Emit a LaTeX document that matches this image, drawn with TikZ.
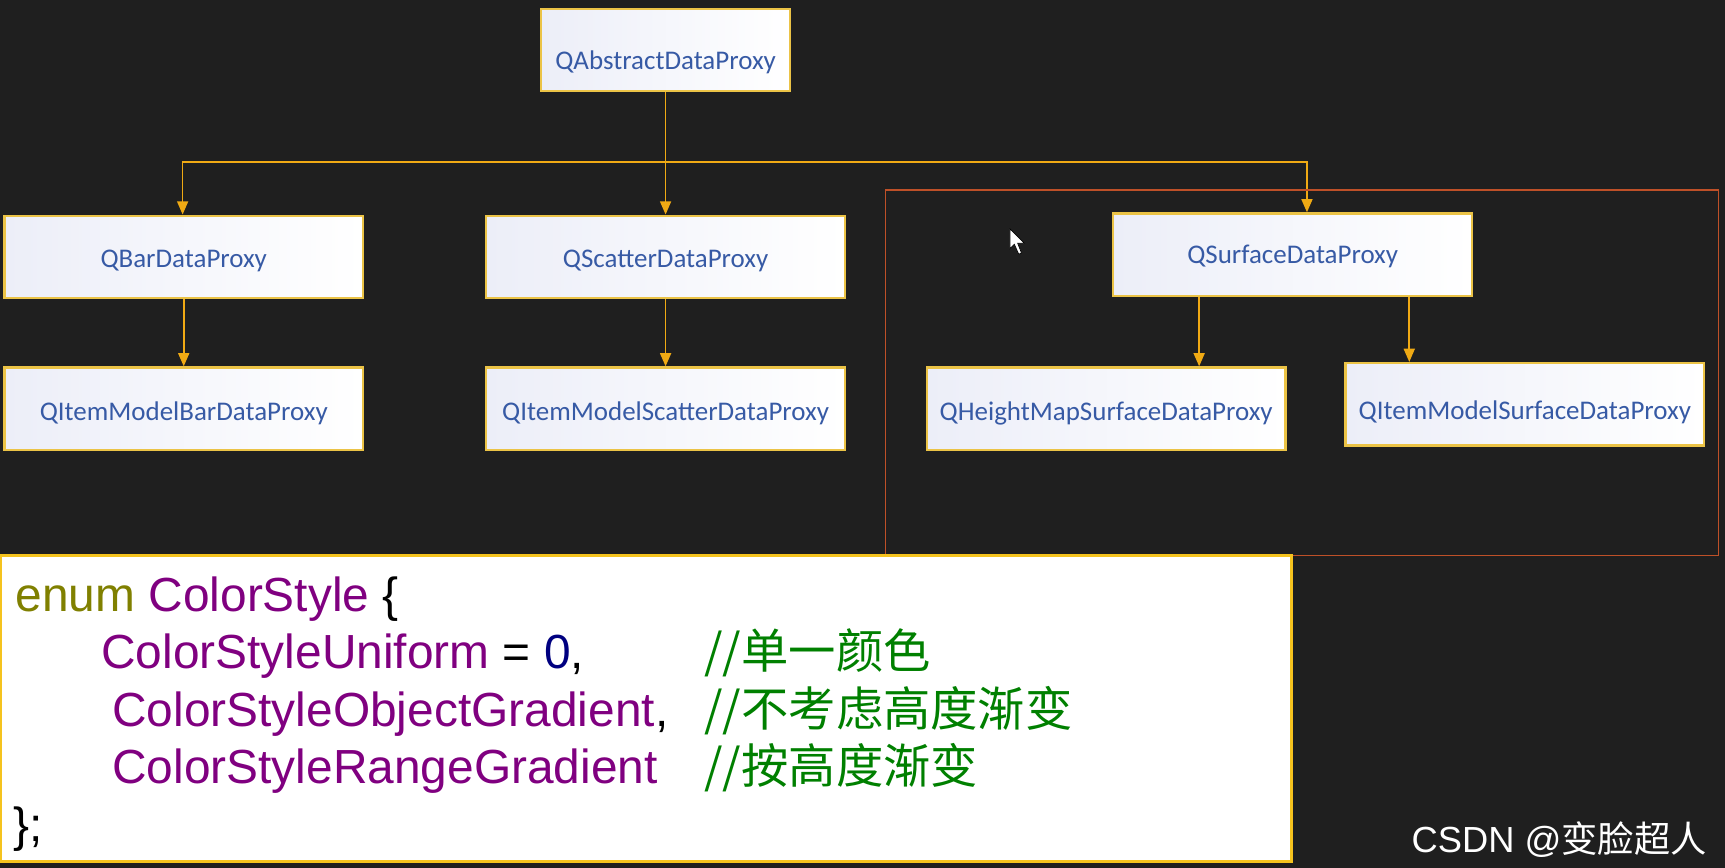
\documentclass[tikz,border=0pt]{standalone}
\usepackage{fontspec}
\setmainfont{Liberation Sans}
\newfontfamily\labelfont{Carlito}
\newfontfamily\cjkfont{Noto Sans CJK SC}
\usetikzlibrary{arrows.meta}

\definecolor{bgdark}{RGB}{31,31,31}
\definecolor{linkgold}{RGB}{240,170,20}
\definecolor{boxedge}{RGB}{235,195,70}
\definecolor{boxfill}{RGB}{236,238,248}
\definecolor{labelblue}{RGB}{55,90,165}
\definecolor{frameorange}{RGB}{190,80,40}
\definecolor{codeedge}{RGB}{245,195,30}
\definecolor{kwolive}{RGB}{128,128,0}
\definecolor{idpurple}{RGB}{128,0,128}
\definecolor{numnavy}{RGB}{0,0,128}
\definecolor{cmtgreen}{RGB}{0,128,0}

\newcommand{\ptext}[2][-9.5pt]{\raisebox{#1}[0pt][0pt]{#2}}

\begin{document}
\begin{tikzpicture}[x=1pt, y=-1pt,
	proxy/.style={draw=boxedge, line width=2pt, left color=boxfill, right color=white, minimum width=326pt, minimum height=75pt, inner sep=0pt, text=labelblue, font=\labelfont\fontsize{24.5}{27}\selectfont},
	link/.style={draw=linkgold, line width=1.5pt, -{Triangle[width=10pt,length=12pt]}},
	codeline/.style={anchor=base west, inner sep=0pt, font=\fontsize{43.5}{52}\selectfont},
	comment/.style={anchor=base west, inner sep=0pt, text=cmtgreen, font=\cjkfont\fontsize{43}{52}\selectfont}]
	\useasboundingbox (0,0) rectangle (1568,789);
	\fill[bgdark] (0,0) rectangle (1568,789);
	% class tree
	\node[proxy, minimum width=226pt] (abs) at (605,45.5) {\ptext[-18pt]{QAbstractDataProxy}};
	\node[proxy] (bar) at (167,233.5) {\ptext{QBarDataProxy}};
	\node[proxy] (sca) at (605,233.5) {\ptext{QScatterDataProxy}};
	\node[proxy] (surf) at (1175,231.5) {\ptext[-8pt]{QSurfaceDataProxy}};
	\node[proxy] (ibar) at (167,371.5) {\ptext[-11pt]{QItemModelBarDataProxy}};
	\node[proxy] (isca) at (605,371.5) {\ptext[-11pt]{QItemModelScatterDataProxy}};
	\node[proxy] (hmap) at (1005.5,371.5) {\ptext[-11pt]{QHeightMapSurfaceDataProxy}};
	\node[proxy] (isurf) at (1386,367.5) {\ptext[-14pt]{QItemModelSurfaceDataProxy}};
	\coordinate (bus) at (605,147);
	\draw[link] (abs.south) -- (sca.north);
	\draw[link] (bus) -| ([xshift=-1pt]bar.north);
	\draw[link] (bus) -| ([xshift=13pt]surf.north);
	\draw[link] (bar.south) -- (ibar.north);
	\draw[link] (sca.south) -- (isca.north);
	\draw[link] ([xshift=-85pt]surf.south) -- ([xshift=-85pt]surf.south |- hmap.north);
	\draw[link] ([xshift=106pt]surf.south) -- ([xshift=106pt]surf.south |- isurf.north);
	\draw[frameorange, line width=1.5pt] (805,173) rectangle (1562,505);
	% mouse pointer
	\draw[fill=white, line width=0.6pt] (918,208) -- (918,226) -- (922,222) -- (926,231) -- (928.5,230) -- (925,221) -- (931,221) -- cycle;
	% enum code
	\node[draw=codeedge, line width=3pt, fill=white, minimum width=1174pt, minimum height=278pt, inner sep=0pt] (code) at (587,644) {};
	\node[codeline] (l1) at (14,556) {\textcolor{kwolive}{enum} \textcolor{idpurple}{ColorStyle} \{};
	\node[codeline] (l2) at (92,608) {\textcolor{idpurple}{ColorStyleUniform} = \textcolor{numnavy}{0},};
	\node[codeline] (l3) at (102,660) {\textcolor{idpurple}{ColorStyleObjectGradient},};
	\node[codeline] (l4) at (102,712) {\textcolor{idpurple}{ColorStyleRangeGradient}};
	\node[codeline] (l5) at (12,765) {\};};
	\node[comment] (c2) at (640,608) {//单一颜色};
	\node[comment] (c3) at (640,660) {//不考虑高度渐变};
	\node[comment] (c4) at (640,712) {//按高度渐变};
	\node[anchor=base west, inner sep=0pt, text=white, font=\fontsize{33}{36}\selectfont] (mark) at (1283,775) {CSDN @{\cjkfont 变脸超人}};
\end{tikzpicture}
\end{document}
